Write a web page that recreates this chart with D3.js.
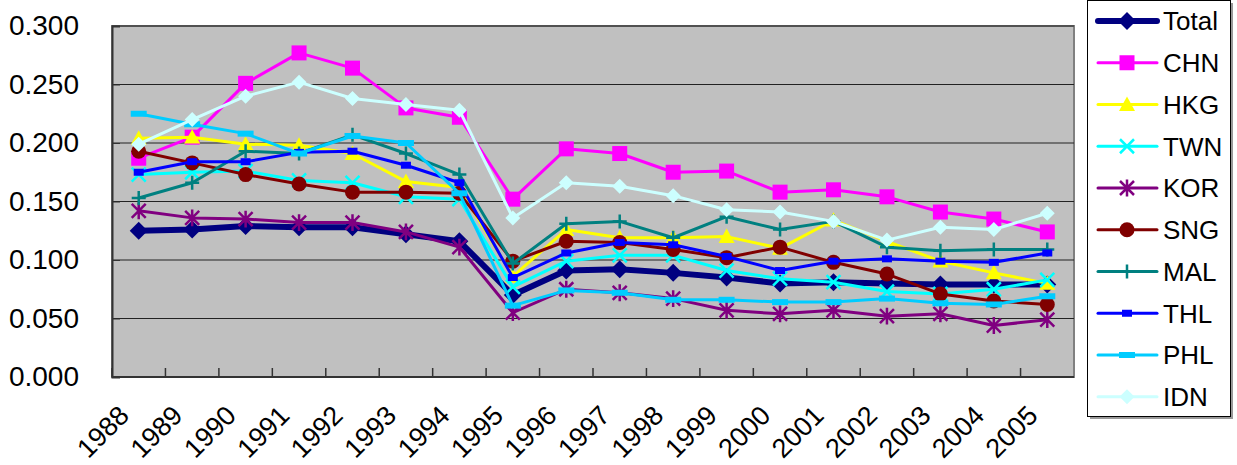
<!DOCTYPE html>
<html>
<head>
<meta charset="utf-8">
<script src="https://cdn.jsdelivr.net/npm/d3@7"></script>
<style>
  body { margin: 0; background: #fff; }
  svg { display: block; font-family: "Liberation Sans", Arial, sans-serif; }
</style>
</head>
<body>
<div id="chart"></div>
<script>
// Years on the x axis
const years = ['1988','1989','1990','1991','1992','1993','1994','1995','1996','1997','1998','1999','2000','2001','2002','2003','2004','2005'];
const yTicks = [0, 0.05, 0.10, 0.15, 0.20, 0.25, 0.30];

// Series values
const total = [0.125,0.126,0.129,0.128,0.128,0.122,0.116,0.070,0.091,0.092,0.089,0.085,0.080,0.081,0.080,0.079,0.079,0.079];
const chn   = [0.187,0.205,0.251,0.277,0.264,0.230,0.222,0.152,0.195,0.191,0.175,0.176,0.158,0.160,0.154,0.141,0.135,0.124];
const hkg   = [0.204,0.205,0.199,0.198,0.191,0.167,0.162,0.086,0.126,0.119,0.119,0.120,0.110,0.134,0.116,0.099,0.089,0.080];
const twn   = [0.173,0.175,0.176,0.168,0.166,0.154,0.152,0.077,0.099,0.104,0.104,0.091,0.084,0.081,0.073,0.071,0.075,0.083];
const kor   = [0.142,0.136,0.135,0.132,0.132,0.124,0.111,0.055,0.075,0.072,0.067,0.057,0.054,0.057,0.052,0.054,0.044,0.049];
const sng   = [0.193,0.183,0.173,0.165,0.158,0.158,0.157,0.099,0.116,0.115,0.109,0.102,0.111,0.098,0.088,0.071,0.065,0.062];
const mal   = [0.153,0.166,0.193,0.191,0.207,0.191,0.173,0.097,0.131,0.133,0.119,0.137,0.126,0.133,0.111,0.108,0.109,0.109];
const thl   = [0.175,0.184,0.184,0.192,0.193,0.181,0.166,0.085,0.106,0.115,0.113,0.103,0.091,0.099,0.101,0.099,0.098,0.106];
const phl   = [0.225,0.216,0.208,0.191,0.206,0.200,0.157,0.061,0.074,0.072,0.066,0.066,0.064,0.064,0.067,0.063,0.062,0.069];
const idn   = [0.199,0.220,0.240,0.252,0.238,0.233,0.228,0.136,0.166,0.163,0.155,0.143,0.141,0.133,0.117,0.128,0.126,0.140];

const series = [
  { name: 'Total', values: total, color: '#000080', width: 6, marker: 'diamond', size: 9 },
  { name: 'CHN', values: chn, color: '#FF00FF', width: 3, marker: 'square', size: 7.5 },
  { name: 'HKG', values: hkg, color: '#FFFF00', width: 3, marker: 'triangle', size: 8 },
  { name: 'TWN', values: twn, color: '#00FFFF', width: 3, marker: 'x', size: 7 },
  { name: 'KOR', values: kor, color: '#800080', width: 3, marker: 'star', size: 7 },
  { name: 'SNG', values: sng, color: '#800000', width: 3, marker: 'circle', size: 7.5 },
  { name: 'MAL', values: mal, color: '#008080', width: 3, marker: 'plus', size: 7 },
  { name: 'THL', values: thl, color: '#0000FF', width: 3, marker: 'smallrect', size: 5 },
  { name: 'PHL', values: phl, color: '#00CCFF', width: 3, marker: 'bar', size: 8 },
  { name: 'IDN', values: idn, color: '#CCFFFF', width: 3, marker: 'diamond', size: 7.5 }
];

const W = 1237, H = 465;
const plot = { left: 112, top: 26, right: 1074, bottom: 377 };

const svg = d3.select('#chart').append('svg')
  .attr('width', W)
  .attr('height', H);

const x = d3.scaleBand().domain(years).range([plot.left, plot.right]).padding(0);
const y = d3.scaleLinear().domain([0, 0.3]).range([plot.bottom, plot.top]);
const cx = d => x(d) + x.bandwidth() / 2;

// Plot background
svg.append('rect')
  .attr('x', plot.left).attr('y', plot.top)
  .attr('width', plot.right - plot.left).attr('height', plot.bottom - plot.top)
  .attr('fill', '#C0C0C0')
  .attr('stroke', '#808080')
  .attr('stroke-width', 2);

// Gridlines
svg.append('g')
  .selectAll('line')
  .data(yTicks.slice(1))
  .join('line')
  .attr('x1', plot.left).attr('x2', plot.right)
  .attr('y1', d => y(d)).attr('y2', d => y(d))
  .attr('stroke', '#222')
  .attr('stroke-width', 1.2);

// Y axis
const yAxis = svg.append('g')
  .attr('transform', `translate(${plot.left},0)`)
  .call(d3.axisLeft(y).tickValues(yTicks).tickFormat(d3.format('.3f')).tickSize(-8).tickPadding(33));
yAxis.select('.domain').attr('stroke', '#333').attr('stroke-width', 2);
yAxis.selectAll('.tick line').attr('stroke', '#333');
yAxis.selectAll('text')
  .attr('font-size', 28)
  .attr('fill', '#000')
  .attr('font-family', '"Liberation Sans", Arial, sans-serif');

// X axis line and ticks at category boundaries
svg.append('line')
  .attr('x1', plot.left).attr('x2', plot.right)
  .attr('y1', plot.bottom).attr('y2', plot.bottom)
  .attr('stroke', '#333').attr('stroke-width', 2);
svg.append('g')
  .selectAll('line')
  .data(years)
  .join('line')
  .attr('x1', d => x(d)).attr('x2', d => x(d))
  .attr('y1', plot.bottom).attr('y2', plot.bottom - 9)
  .attr('stroke', '#333').attr('stroke-width', 1.5);

// X labels, rotated
svg.append('g')
  .selectAll('text')
  .data(years)
  .join('text')
  .attr('text-anchor', 'end')
  .attr('font-size', 27)
  .attr('transform', d => `translate(${cx(d) - 8},${plot.bottom + 40}) rotate(-45)`)
  .text(d => d);

// Marker drawing helper
function drawMarker(g, s) {
  const r = s.size;
  switch (s.marker) {
    case 'diamond':
      g.append('path').attr('d', `M0,${-r}L${r},0L0,${r}L${-r},0Z`).attr('fill', s.color);
      break;
    case 'square':
      g.append('rect').attr('x', -r).attr('y', -r).attr('width', 2 * r).attr('height', 2 * r).attr('fill', s.color);
      break;
    case 'triangle':
      g.append('path').attr('d', `M0,${-r}L${r},${r * 0.8}L${-r},${r * 0.8}Z`).attr('fill', s.color);
      break;
    case 'x':
      g.append('path').attr('d', `M${-r},${-r}L${r},${r}M${-r},${r}L${r},${-r}`)
        .attr('stroke', s.color).attr('stroke-width', 2.5).attr('fill', 'none');
      break;
    case 'star':
      g.append('path').attr('d', `M${-r},${-r}L${r},${r}M${-r},${r}L${r},${-r}M0,${-r * 1.2}L0,${r * 1.2}`)
        .attr('stroke', s.color).attr('stroke-width', 2.5).attr('fill', 'none');
      break;
    case 'circle':
      g.append('circle').attr('r', r).attr('fill', s.color);
      break;
    case 'plus':
      g.append('path').attr('d', `M${-r},0L${r},0M0,${-r}L0,${r}`)
        .attr('stroke', s.color).attr('stroke-width', 2.5).attr('fill', 'none');
      break;
    case 'smallrect':
      g.append('rect').attr('x', -r).attr('y', -3.5).attr('width', 2 * r).attr('height', 7).attr('fill', s.color);
      break;
    case 'bar':
      g.append('rect').attr('x', -r).attr('y', -3).attr('width', 2 * r).attr('height', 6).attr('fill', s.color);
      break;
  }
}

// Lines and markers, in series order (later ones on top)
const line = d3.line().x((d, i) => cx(years[i])).y(d => y(d));
series.forEach(s => {
  const g = svg.append('g');
  g.append('path')
    .datum(s.values)
    .attr('d', line)
    .attr('fill', 'none')
    .attr('stroke', s.color)
    .attr('stroke-width', s.width)
    .attr('stroke-linejoin', 'round');
  s.values.forEach((v, i) => {
    const m = g.append('g').attr('transform', `translate(${cx(years[i])},${y(v)})`);
    drawMarker(m, s);
  });
});

// Legend
const legend = svg.append('g');
legend.append('rect')
  .attr('x', 1090).attr('y', 3).attr('width', 143).attr('height', 416)
  .attr('fill', '#999');
legend.append('rect')
  .attr('x', 1087.5).attr('y', 0.5).attr('width', 143).attr('height', 416)
  .attr('fill', '#fff').attr('stroke', '#000').attr('stroke-width', 1);
series.forEach((s, i) => {
  const ly = 21 + i * 41.75;
  const item = legend.append('g');
  item.append('line')
    .attr('x1', 1098).attr('x2', 1157)
    .attr('y1', ly).attr('y2', ly)
    .attr('stroke', s.color).attr('stroke-width', s.width)
    .attr('stroke-linecap', 'round');
  const m = item.append('g').attr('transform', `translate(1127,${ly})`);
  drawMarker(m, s);
  item.append('text')
    .attr('x', 1163).attr('y', ly)
    .attr('dy', '0.36em')
    .attr('font-size', 26)
    .text(s.name);
});
</script>
</body>
</html>
